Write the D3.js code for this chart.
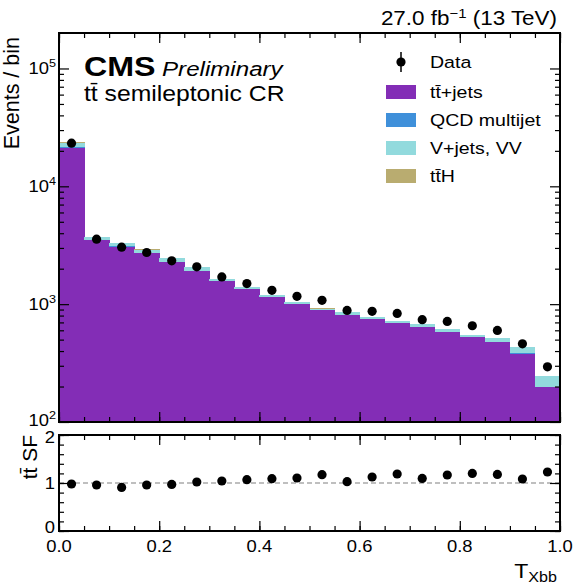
<!DOCTYPE html>
<html>
<head>
<meta charset="utf-8">
<script src="https://cdn.jsdelivr.net/npm/d3@7"></script>
<style>
body { margin: 0; background: #fff; }
text { font-family: "Liberation Sans", Arial, Helvetica, sans-serif; fill: #000; }
</style>
</head>
<body>
<script>
// T_Xbb bins (lower edges, width 0.05)
const binLo = [0.00, 0.05, 0.10, 0.15, 0.20, 0.25, 0.30, 0.35, 0.40, 0.45,
               0.50, 0.55, 0.60, 0.65, 0.70, 0.75, 0.80, 0.85, 0.90, 0.95];
const binW = 0.05;

// stacked backgrounds, events per bin
const ttbar = [21340, 3520, 3085, 2727, 2286, 1903, 1564, 1337, 1143, 1010,
               885, 809, 743, 687, 635, 583, 522, 473, 379, 197];
const qcd   = [120, 10, 12, 9, 9, 8, 4, 4, 3, 2, 2, 3, 2, 2, 2, 2, 2, 2, 6, 3];
const vjets = [2050, 169, 215, 168, 153, 141, 76, 64, 48, 35,
               31, 48, 30, 27, 42, 27, 23, 41, 44, 45];
const tth   = [40, 6, 6, 6, 6, 5, 4, 4, 3, 3, 3, 3, 3, 3, 3, 3, 3, 3, 3, 3];

// data
const dataY = [23220, 3560, 3043, 2743, 2332, 2073, 1703, 1494, 1310, 1165,
               1077, 885, 869, 835, 738, 714, 656, 598, 461, 294];

// ttbar scale factor in each bin
const sf = [0.979, 0.958, 0.908, 0.958, 0.971, 1.021, 1.042, 1.069, 1.090, 1.104,
            1.173, 1.027, 1.125, 1.188, 1.096, 1.167, 1.200, 1.179, 1.083, 1.229];

const xTicks = [0, 0.2, 0.4, 0.6, 0.8, 1.0];
const xTickLabels = ["0.0", "0.2", "0.4", "0.6", "0.8", "1.0"];
const yExp = [2, 3, 4, 5];
const rTicks = [0, 1, 2];

const keys = ["ttbar", "qcd", "vjets", "tth"];
const colors = { ttbar: "#832db6", qcd: "#3f90da", vjets: "#92dadd", tth: "#b9ac70" };
const legendItems = [
  { key: "ttbar", label: "tt\u0304+jets" },
  { key: "qcd", label: "QCD multijet" },
  { key: "vjets", label: "V+jets, VV" },
  { key: "tth", label: "tt\u0304H" }
];

const W = 580, H = 588;
const L = 59, R = 560, T = 33, B = 422, RT = 435, RB = 531;
const SX = 1.15; // horizontal text stretch

const svg = d3.select("body").append("svg").attr("width", W).attr("height", H);

const x = d3.scaleLinear().domain([0, 1]).range([L, R]);
const y = d3.scaleLog().domain([100, 2e5]).range([B, T]).clamp(true);
const yr = d3.scaleLinear().domain([0, 2]).range([RB, RT]);

// stacked histogram
const rows = binLo.map((lo, i) => ({ lo: lo, ttbar: ttbar[i], qcd: qcd[i], vjets: vjets[i], tth: tth[i] }));
const stacked = d3.stack().keys(keys)(rows);

svg.append("g").selectAll("g")
  .data(stacked)
  .join("g")
  .attr("fill", d => colors[d.key])
  .selectAll("rect")
  .data(d => d)
  .join("rect")
  .attr("shape-rendering", "crispEdges")
  .attr("x", d => x(d.data.lo))
  .attr("width", d => x(d.data.lo + binW) - x(d.data.lo) + 0.5)
  .attr("y", d => y(d[1]))
  .attr("height", d => Math.max(0, y(Math.max(d[0], 1)) - y(d[1])));

// data points
svg.append("g").selectAll("circle")
  .data(binLo)
  .join("circle")
  .attr("cx", (d, i) => x(d + binW / 2))
  .attr("cy", (d, i) => y(dataY[i]))
  .attr("r", 4.6)
  .attr("fill", "#000");

// ratio panel
svg.append("line")
  .attr("x1", L).attr("x2", R)
  .attr("y1", yr(1)).attr("y2", yr(1))
  .attr("stroke", "#aaa").attr("stroke-width", 1.3)
  .attr("stroke-dasharray", "5,3");

svg.append("g").selectAll("circle")
  .data(binLo)
  .join("circle")
  .attr("cx", d => x(d + binW / 2))
  .attr("cy", (d, i) => yr(sf[i]))
  .attr("r", 4.6)
  .attr("fill", "#000");

// ticks
function ticks(axis, pos, vals, size) {
  const g = svg.append("g").attr("transform", pos)
    .call(axis.tickValues(vals).tickSize(-size).tickFormat(""));
  g.select(".domain").remove();
  g.selectAll("line").attr("stroke", "#000").attr("stroke-width", 1.2);
}
const xMinor = d3.range(0, 21).map(i => i * 0.05);
[[T, B], [RT, RB]].forEach(([t, b]) => {
  ticks(d3.axisBottom(x), `translate(0,${b})`, xTicks, 10);
  ticks(d3.axisBottom(x), `translate(0,${b})`, xMinor, 5);
  ticks(d3.axisTop(x), `translate(0,${t})`, xTicks, 10);
  ticks(d3.axisTop(x), `translate(0,${t})`, xMinor, 5);
});

const yMajor = yExp.map(e => Math.pow(10, e));
const yMinor = [];
yExp.forEach(e => { for (let k = 2; k <= 9; k++) { const v = k * Math.pow(10, e); if (v < 2e5) yMinor.push(v); } });
ticks(d3.axisLeft(y), `translate(${L},0)`, yMajor, 10);
ticks(d3.axisLeft(y), `translate(${L},0)`, yMinor, 5);
ticks(d3.axisRight(y), `translate(${R},0)`, yMajor, 10);
ticks(d3.axisRight(y), `translate(${R},0)`, yMinor, 5);

const rMinor = d3.range(0, 11).map(i => i * 0.2);
ticks(d3.axisLeft(yr), `translate(${L},0)`, rTicks, 10);
ticks(d3.axisLeft(yr), `translate(${L},0)`, rMinor, 5);
ticks(d3.axisRight(yr), `translate(${R},0)`, rTicks, 10);
ticks(d3.axisRight(yr), `translate(${R},0)`, rMinor, 5);

// frames
[[T, B], [RT, RB]].forEach(([t, b]) => {
  svg.append("rect").attr("x", L).attr("y", t).attr("width", R - L).attr("height", b - t)
    .attr("fill", "none").attr("stroke", "#000").attr("stroke-width", 2);
});

// text helper (stretched a bit horizontally like the reference)
function txt(px, py, size, anchor) {
  return svg.append("text")
    .attr("transform", `translate(${px},${py}) scale(${SX},1)`)
    .attr("font-size", size)
    .attr("text-anchor", anchor || "start");
}

// tick labels
xTicks.forEach((v, i) => txt(x(v), 552, 16, "middle").text(xTickLabels[i]));
yExp.forEach(e => {
  const t = txt(56, y(Math.pow(10, e)) + (e === 2 ? 4 : 6), 16, "end");
  t.append("tspan").text("10");
  t.append("tspan").attr("font-size", 11).attr("dy", -7).text(e);
});
rTicks.forEach(v => txt(55, yr(v) + (v === 0 ? 2 : v === 2 ? 8 : 6), 16, "end").text(v));

// axis titles
svg.append("text")
  .attr("transform", `translate(19,37) rotate(-90)`)
  .attr("font-size", 21.5).attr("text-anchor", "end")
  .text("Events / bin");
svg.append("text")
  .attr("transform", `translate(37,435) rotate(-90)`)
  .attr("font-size", 21).attr("text-anchor", "end")
  .text("tt\u0304 SF");
const xl = txt(557, 578, 20, "end");
xl.append("tspan").text("T");
xl.append("tspan").attr("font-size", 14).attr("dy", 4).text("Xbb");

// CMS labels
txt(84, 76, 28, "start").attr("font-weight", "bold").text("CMS");
txt(162, 76, 21, "start").attr("font-style", "italic").text("Preliminary");
txt(84, 101, 21.5, "start").text("tt\u0304 semileptonic CR");

const lumi = txt(557, 25, 19.5, "end");
lumi.append("tspan").text("27.0 fb");
lumi.append("tspan").attr("font-size", 13).attr("dy", -7).text("\u22121");
lumi.append("tspan").attr("dy", 7).text(" (13 TeV)");

// legend
const lg = svg.append("g");
lg.append("line").attr("x1", 401).attr("x2", 401).attr("y1", 52).attr("y2", 72)
  .attr("stroke", "#000").attr("stroke-width", 1.5);
lg.append("circle").attr("cx", 401).attr("cy", 62).attr("r", 4.6).attr("fill", "#000");
txt(430, 68, 17, "start").text("Data");
legendItems.forEach((it, i) => {
  const cy = 92 + i * 28;
  lg.append("rect").attr("x", 386).attr("y", cy - 7).attr("width", 30).attr("height", 14)
    .attr("fill", colors[it.key]);
  txt(430, cy + 6, 17, "start").text(it.label);
});
</script>
</body>
</html>
